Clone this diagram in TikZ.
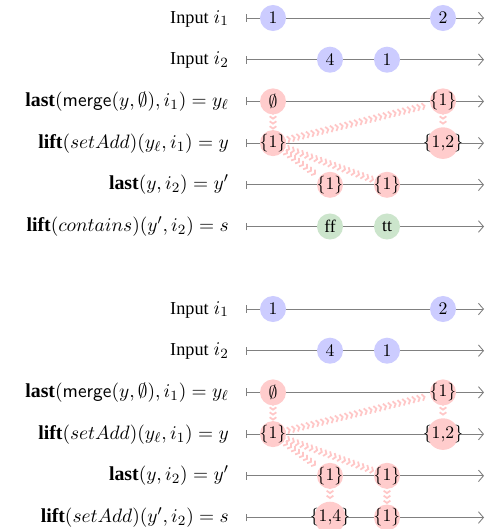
\documentclass[tikz,border=0pt]{standalone}
\usepackage[no-math]{fontspec}
\setmainfont{Liberation Serif}
\usetikzlibrary{arrows.meta,decorations.markings,backgrounds}

% wide event values overhang their circle instead of enlarging it
\newcommand\overhang[1]{\kern-4pt#1\kern-4pt}

\begin{document}
\begin{tikzpicture}[x=0.565pt,y=-0.565pt,
  ev/.style={circle,inner sep=0pt,minimum size=14.7pt,
    font=\fontsize{10}{12}\selectfont},
  inp/.style={ev,fill=blue!20},
  st/.style={ev,fill=red!20},
  bo/.style={ev,fill=green!50!black!20},
  lbl/.style={anchor=base east,font=\fontsize{11.2}{13.5}\selectfont},
  timeline/.style={draw=gray,line width=0.5pt,
    {Bar[width=4.5pt]}-{Straight Barb[length=2.8pt,width=6.5pt]}},
  flow/.style={decorate,decoration={markings,
    mark=between positions 0 and 1 step 2.8pt with
    {\arrow[red!22]{Straight Barb[length=1.3pt,width=3.8pt,line width=1pt]}}}}]
\useasboundingbox (0,0) rectangle (485,529);
\newcommand\inputword{{\fontsize{10.3}{12}\selectfont Input}}

% ---------- first stream diagram ----------
\coordinate (s1) at (246,18);    \coordinate (t1) at (484,18);
\coordinate (s2) at (246,59.7);  \coordinate (t2) at (484,59.7);
\coordinate (s3) at (246,101.4); \coordinate (t3) at (484,101.4);
\coordinate (s4) at (246,143.1); \coordinate (t4) at (484,143.1);
\coordinate (s5) at (246,184.8); \coordinate (t5) at (484,184.8);
\coordinate (s6) at (246,226.5); \coordinate (t6) at (484,226.5);

\node[lbl] (l1) at (235,23)    {\inputword\ $i_1$};
\node[lbl] (l2) at (235,64.7)  {\inputword\ $i_2$};
\node[lbl] (l3) at (235,106.4) {\textbf{last}$(\mathsf{merge}(y,\emptyset),i_1)=y_\ell$};
\node[lbl] (l4) at (235,148.1) {\textbf{lift}$(setAdd)(y_\ell,i_1)=y$};
\node[lbl] (l5) at (235,189.8) {\textbf{last}$(y,i_2)=y'$};
\node[lbl] (l6) at (235,231.5) {\textbf{lift}$(contains)(y',i_2)=s$};

\node[inp] (a1) at (273,18)    {$1$};
\node[inp] (a2) at (443,18)    {$2$};
\node[inp] (b1) at (330,59.7)  {$4$};
\node[inp] (b2) at (387,59.7)  {$1$};
\node[st]  (c1) at (273,101.4) {$\emptyset$};
\node[st]  (c2) at (443,101.4) {\overhang{$\{1\}$}};
\node[st]  (d1) at (273,143.1) {\overhang{$\{1\}$}};
\node[st]  (d2) at (443,143.1) {\overhang{$\{1{,}2\}$}};
\node[st]  (e1) at (330,184.8) {\overhang{$\{1\}$}};
\node[st]  (e2) at (387,184.8) {\overhang{$\{1\}$}};
\node[bo]  (f1) at (330,226.5) {ff};
\node[bo]  (f2) at (387,226.5) {tt};

% ---------- second stream diagram ----------
\coordinate (S1) at (246,309);   \coordinate (T1) at (484,309);
\coordinate (S2) at (246,350.7); \coordinate (T2) at (484,350.7);
\coordinate (S3) at (246,392.4); \coordinate (T3) at (484,392.4);
\coordinate (S4) at (246,434.1); \coordinate (T4) at (484,434.1);
\coordinate (S5) at (246,475.8); \coordinate (T5) at (484,475.8);
\coordinate (S6) at (246,517.5); \coordinate (T6) at (484,517.5);

\node[lbl] (L1) at (235,314)   {\inputword\ $i_1$};
\node[lbl] (L2) at (235,355.7) {\inputword\ $i_2$};
\node[lbl] (L3) at (235,397.4) {\textbf{last}$(\mathsf{merge}(y,\emptyset),i_1)=y_\ell$};
\node[lbl] (L4) at (235,439.1) {\textbf{lift}$(setAdd)(y_\ell,i_1)=y$};
\node[lbl] (L5) at (235,480.8) {\textbf{last}$(y,i_2)=y'$};
\node[lbl] (L6) at (235,522.5) {\textbf{lift}$(setAdd)(y',i_2)=s$};

\node[inp] (A1) at (273,309)   {$1$};
\node[inp] (A2) at (443,309)   {$2$};
\node[inp] (B1) at (330,350.7) {$4$};
\node[inp] (B2) at (387,350.7) {$1$};
\node[st]  (C1) at (273,392.4) {$\emptyset$};
\node[st]  (C2) at (443,392.4) {\overhang{$\{1\}$}};
\node[st]  (D1) at (273,434.1) {\overhang{$\{1\}$}};
\node[st]  (D2) at (443,434.1) {\overhang{$\{1{,}2\}$}};
\node[st]  (E1) at (330,475.8) {\overhang{$\{1\}$}};
\node[st]  (E2) at (387,475.8) {\overhang{$\{1\}$}};
\node[st]  (F1) at (330,517.5) {\overhang{$\{1{,}4\}$}};
\node[st]  (F2) at (387,517.5) {\overhang{$\{1\}$}};

\begin{pgfonlayer}{background}
  % time lines
  \foreach \i in {1,...,6} {
    \draw[timeline] (s\i) -- (t\i);
    \draw[timeline] (S\i) -- (T\i);
  }
  % dependencies between stream events
  \path[flow] (c1) -- (d1);
  \path[flow] (d1) -- (c2);
  \path[flow] (c2) -- (d2);
  \path[flow] (d1) -- (e1);
  \path[flow] (d1) -- (e2);

  \path[flow] (C1) -- (D1);
  \path[flow] (D1) -- (C2);
  \path[flow] (C2) -- (D2);
  \path[flow] (D1) -- (E1);
  \path[flow] (D1) -- (E2);
  \path[flow] (E1) -- (F1);
  \path[flow] (E2) -- (F2);
\end{pgfonlayer}
\end{tikzpicture}
\end{document}
